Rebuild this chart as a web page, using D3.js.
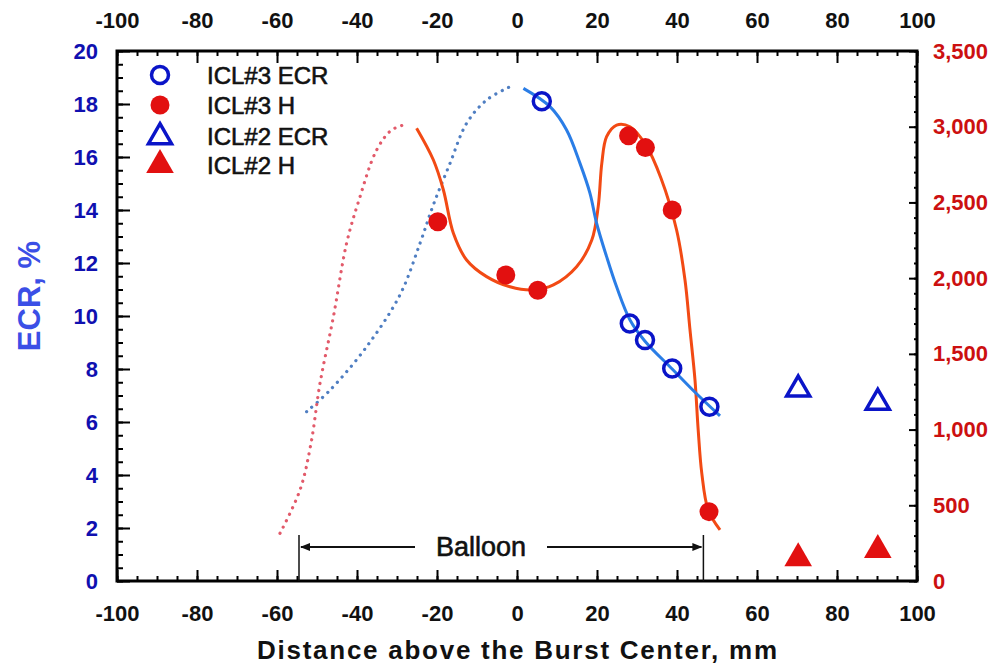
<!DOCTYPE html>
<html><head><meta charset="utf-8">
<script src="https://cdn.jsdelivr.net/npm/d3@7"></script>
<style>body{margin:0;background:#fff}svg{display:block}text{font-family:"Liberation Sans",Arial,sans-serif;font-weight:bold}</style>
</head><body>
<svg id="c" width="1000" height="665"></svg>
<script>
// ---- data ----
const xTicks = [-100,-80,-60,-40,-20,0,20,40,60,80,100];
const ecrTicks = [0,2,4,6,8,10,12,14,16,18,20];
const hTicks = [0,500,1000,1500,2000,2500,3000,3500];

const icl3EcrX = [6.2, 28.2, 32.0, 38.8, 48.1];
const icl3Ecr  = [18.1, 9.72, 9.09, 8.02, 6.58];
const icl3HX   = [-19.8, -2.8, 5.2, 27.9, 32.1, 38.8, 48.0];
const icl3H    = [2372, 2021, 1920, 2940, 2862, 2450, 458];
const icl2X    = [70.3, 90.2];
const icl2Ecr  = [7.27, 6.77];
const icl2H    = [150, 205];

const fitEcrX = [1.6, 8.25, 12.4, 15.75, 18.25, 19.9, 22.4, 24.9, 28.25, 32, 38.8, 44, 50.75];
const fitEcr  = [18.59, 17.9, 17.02, 15.76, 14.63, 13.5, 12.24, 11.1, 9.85, 9.05, 8.0, 7.2, 6.23];
const dotEcrX = [-52.6, -46.75, -37.6, -29.25, -24.25, -20.9, -16.75, -12.6, -7.6, -1.75];
const dotEcr  = [6.39, 7.2, 8.84, 10.8, 12.74, 14.2, 15.76, 17.27, 18.15, 18.65];
const fitHX = [-25.1, -20.9, -18.4, -15.9, -12.6, -7.6, -1.75, 4.1, 9.1, 14.9, 18.7, 20.3, 21.2, 22.4, 24.9, 28.25, 32.2, 36, 39.9, 42, 43.25, 44.5, 45.3, 46.2, 47.8, 50.75];
const fitH  = [2990, 2780, 2582, 2296, 2120, 2010, 1943, 1922, 1955, 2075, 2252, 2472, 2758, 2934, 3011, 3000, 2880, 2660, 2318, 1988, 1658, 1327, 997, 711, 469, 337];
const dotHX = [-59.25, -54.25, -51.5, -49.25, -45.9, -42.6, -39.5, -35.1, -31.5, -28.4];
const dotH  = [315, 601, 909, 1305, 1745, 2230, 2516, 2846, 2975, 3011];

const balloon = [-54.5, 46.6];
const legendNames = ["ICL#3 ECR", "ICL#3 H", "ICL#2 ECR", "ICL#2 H"];

// ---- layout ----
const L = 117, R = 917, T = 51, B = 581;
const svg = d3.select("#c");
const x = d3.scaleLinear().domain([-100,100]).range([L,R]);
const yE = d3.scaleLinear().domain([0,20]).range([B,T]);
const yH = d3.scaleLinear().domain([0,3500]).range([B,T]);

const blueDark = "#1010b0";
const minorX = d3.range(-100,101,5), minorE = d3.range(0,20.01,0.5), minorH = d3.range(0,3501,100);
const plain = d => String(d);

function styleAxis(g, color, size) {
  g.select(".domain").remove();
  g.selectAll("line").attr("stroke","#000").attr("stroke-width",2);
  g.selectAll("text").attr("fill",color).style("font-size",size+"px").style("font-weight","bold")
   .style("font-family",'"Liberation Sans",Arial,sans-serif');
}
// bottom
svg.append("g").attr("transform",`translate(0,${B})`)
  .call(d3.axisBottom(x).tickValues(minorX).tickSizeInner(-5).tickSizeOuter(0).tickFormat(""))
  .call(g=>styleAxis(g,"#000",22));
svg.append("g").attr("transform",`translate(0,${B})`)
  .call(d3.axisBottom(x).tickValues(xTicks).tickSizeInner(-11).tickSizeOuter(0).tickFormat(plain))
  .call(g=>styleAxis(g,"#111",22)).call(g=>g.selectAll("text").attr("dy","0.32em").attr("y",33));
// top
svg.append("g").attr("transform",`translate(0,${T})`)
  .call(d3.axisTop(x).tickValues(minorX).tickSizeInner(-5).tickSizeOuter(0).tickFormat(""))
  .call(g=>styleAxis(g,"#000",22));
svg.append("g").attr("transform",`translate(0,${T})`)
  .call(d3.axisTop(x).tickValues(xTicks).tickSizeInner(-12).tickSizeOuter(0).tickFormat(plain))
  .call(g=>styleAxis(g,"#111",22)).call(g=>g.selectAll("text").attr("dy","0.32em").attr("y",-30));
// left
svg.append("g").attr("transform",`translate(${L},0)`)
  .call(d3.axisLeft(yE).tickValues(minorE).tickSizeInner(-6).tickSizeOuter(0).tickFormat(""))
  .call(g=>styleAxis(g,"#000",22));
svg.append("g").attr("transform",`translate(${L},0)`)
  .call(d3.axisLeft(yE).tickValues(ecrTicks).tickSizeInner(-13).tickSizeOuter(0).tickFormat(plain))
  .call(g=>styleAxis(g,blueDark,22)).call(g=>g.selectAll("text").attr("x",-19));
// right
svg.append("g").attr("transform",`translate(${R},0)`)
  .call(d3.axisRight(yH).tickValues(minorH).tickSizeInner(-3).tickSizeOuter(0).tickFormat(""))
  .call(g=>styleAxis(g,"#000",22));
svg.append("g").attr("transform",`translate(${R},0)`)
  .call(d3.axisRight(yH).tickValues(hTicks).tickSizeInner(-8).tickSizeOuter(0).tickFormat(d3.format(",")))
  .call(g=>styleAxis(g,"#cc1010",22)).call(g=>g.selectAll("text").attr("x",16));

svg.append("rect").attr("x",L).attr("y",T).attr("width",R-L).attr("height",B-T)
  .attr("fill","none").attr("stroke","#000").attr("stroke-width",3);

// titles
svg.append("text").attr("x",517).attr("y",650).attr("text-anchor","middle").attr("dominant-baseline","central")
  .attr("textLength",520).attr("lengthAdjust","spacing").style("font-size","26px").attr("fill","#111")
  .text("Distance above the Burst Center, mm");
svg.append("text").attr("transform","translate(29,296) rotate(-90)").attr("text-anchor","middle")
  .attr("dominant-baseline","central").style("font-size","31px").attr("fill","#3b4fe6").text("ECR, %");

// curves
const crv = d3.curveCatmullRom.alpha(0.5);
const lineE = d3.line().x(d=>x(d[0])).y(d=>yE(d[1])).curve(crv);
const lineH = d3.line().x(d=>x(d[0])).y(d=>yH(d[1])).curve(crv);
svg.append("path").attr("d",lineE(d3.zip(dotEcrX,dotEcr))).attr("fill","none")
  .attr("stroke","#4f7ec2").attr("stroke-width",3.2).attr("stroke-linecap","round").attr("stroke-dasharray","0.1 7");
svg.append("path").attr("d",lineH(d3.zip(dotHX,dotH))).attr("fill","none")
  .attr("stroke","#e25a6a").attr("stroke-width",3.2).attr("stroke-linecap","round").attr("stroke-dasharray","0.1 7");
svg.append("path").attr("d",lineH(d3.zip(fitHX,fitH))).attr("fill","none")
  .attr("stroke","#f24a14").attr("stroke-width",3);
svg.append("path").attr("d",lineE(d3.zip(fitEcrX,fitEcr))).attr("fill","none")
  .attr("stroke","#2a7de6").attr("stroke-width",3);

// balloon annotation
const by = 547;
svg.append("line").attr("x1",x(balloon[0])).attr("x2",x(balloon[0])).attr("y1",535).attr("y2",B).attr("stroke","#111").attr("stroke-width",1.5);
svg.append("line").attr("x1",x(balloon[1])).attr("x2",x(balloon[1])).attr("y1",535).attr("y2",B).attr("stroke","#111").attr("stroke-width",1.5);
svg.append("line").attr("x1",x(balloon[0])+2).attr("x2",415).attr("y1",by).attr("y2",by).attr("stroke","#111").attr("stroke-width",1.8);
svg.append("line").attr("x1",547).attr("x2",x(balloon[1])-2).attr("y1",by).attr("y2",by).attr("stroke","#111").attr("stroke-width",1.8);
svg.append("path").attr("d",`M${x(balloon[0])+1},${by} l10,-4 l0,8 z`).attr("fill","#111");
svg.append("path").attr("d",`M${x(balloon[1])-1},${by} l-10,-4 l0,8 z`).attr("fill","#111");
svg.append("text").attr("x",481).attr("y",by).attr("text-anchor","middle").attr("dominant-baseline","central")
  .style("font-size","27px").style("font-weight","normal").attr("fill","#111").attr("stroke","#111").attr("stroke-width",0.6).text("Balloon");

// markers
const tri = d3.symbol().type(d3.symbolTriangle).size(230);
svg.append("g").selectAll("circle").data(d3.zip(icl3HX,icl3H)).join("circle")
  .attr("cx",d=>x(d[0])).attr("cy",d=>yH(d[1])).attr("r",9.5).attr("fill","#e21010");
svg.append("g").selectAll("circle").data(d3.zip(icl3EcrX,icl3Ecr)).join("circle")
  .attr("cx",d=>x(d[0])).attr("cy",d=>yE(d[1])).attr("r",8.5).attr("fill","none").attr("stroke","#0a14c8").attr("stroke-width",3.5);
svg.append("g").selectAll("path").data(d3.zip(icl2X,icl2Ecr)).join("path")
  .attr("transform",d=>`translate(${x(d[0])},${yE(d[1])+1})`).attr("d",tri).attr("fill","none").attr("stroke","#0a14c8").attr("stroke-width",3.5);
svg.append("g").selectAll("path").data(d3.zip(icl2X,icl2H)).join("path")
  .attr("transform",d=>`translate(${x(d[0])},${yH(d[1])})`).attr("d",d3.symbol().type(d3.symbolTriangle).size(330)).attr("fill","#e21010");

// legend
const ly = [75, 105, 136, 165];
const lg = svg.append("g");
lg.append("circle").attr("cx",160).attr("cy",ly[0]).attr("r",8.5).attr("fill","none").attr("stroke","#0a14c8").attr("stroke-width",3.5);
lg.append("circle").attr("cx",160).attr("cy",ly[1]).attr("r",9.5).attr("fill","#e21010");
lg.append("path").attr("transform",`translate(160,${ly[2]+1})`).attr("d",tri).attr("fill","none").attr("stroke","#0a14c8").attr("stroke-width",3.5);
lg.append("path").attr("transform",`translate(160,${ly[3]})`).attr("d",d3.symbol().type(d3.symbolTriangle).size(330)).attr("fill","#e21010");
lg.selectAll("text").data(legendNames).join("text").attr("x",207).attr("y",(d,i)=>ly[i])
  .attr("dominant-baseline","central").style("font-size","24px").style("font-weight","normal")
  .attr("stroke","#111").attr("stroke-width",0.6).attr("fill","#111").text(d=>d);
</script>
</body></html>
